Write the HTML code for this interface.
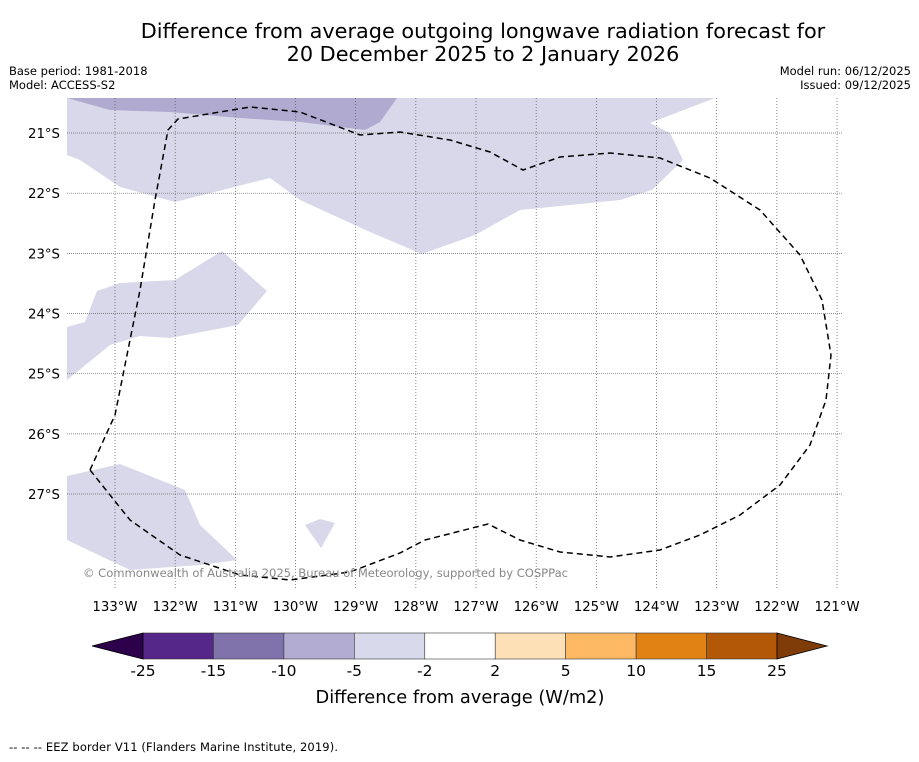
<!DOCTYPE html>
<html><head><meta charset="utf-8"><style>
body{margin:0;background:#fff;width:919px;height:758px;overflow:hidden;font-family:"DejaVu Sans","Liberation Sans",sans-serif;}
svg text{font-family:"DejaVu Sans","Liberation Sans",sans-serif;}
</style></head><body>
<svg id="c" width="919" height="758" xmlns="http://www.w3.org/2000/svg">
<text x="483" y="38" text-anchor="middle" font-size="20.8">Difference from average outgoing longwave radiation forecast for</text>
<text x="483" y="61" text-anchor="middle" font-size="20.8">20 December 2025 to 2 January 2026</text>
<text x="9" y="75" font-size="11.5">Base period: 1981-2018</text>
<text x="9" y="89" font-size="11.5">Model: ACCESS-S2</text>
<text x="911" y="75" font-size="11.5" text-anchor="end">Model run: 06/12/2025</text>
<text x="911" y="89" font-size="11.5" text-anchor="end">Issued: 09/12/2025</text>
<g id="map">
<polygon fill="#d8d8ea" points="67,98 715,98 650,123 670,133 683,160 652,190 620,200 520,210 475,235 422,254 370,232 300,200 270,178 175,202 120,187 80,160 67,155"/>
<polygon fill="#b0aad0" points="67,98 397,98 380,122 365,130 300,122 240,118 170,112 110,110"/>
<polygon fill="#d8d8ea" points="67,327 85,322 97,291 120,283 175,280 222,251 267,291 238,325 170,338 140,336 110,345 67,380"/>
<polygon fill="#d8d8ea" points="67,476 120,464 185,490 200,525 237,560 200,565 130,570 67,540"/>
<polygon fill="#d8d8ea" points="305,525 320,519 335,523 321,548"/>
</g>
<g id="grid"></g>
<polyline fill="none" stroke="#000" stroke-width="1.5" stroke-dasharray="6,4" points="90,470 115,415 140,290 155,200 168,130 178,119 250,107 300,112 360,135 400,132 450,140 490,152 523,170 560,157 610,153 660,158 710,178 760,210 800,255 822,300 831,355 826,400 810,445 780,485 740,515 700,535 660,550 610,557 560,552 520,540 488,524 425,540 400,553 350,572 290,580 240,575 180,555 130,520 90,470"/>
<text x="83" y="577" font-size="11.6" fill="#888" textLength="485">© Commonwealth of Australia 2025, Bureau of Meteorology, supported by COSPPac</text>
<g id="cbar"></g>
<text x="460" y="703" text-anchor="middle" font-size="17.8">Difference from average (W/m2)</text>
<text x="9" y="751" font-size="11.5" textLength="329">--  --  -- EEZ border V11 (Flanders Marine Institute, 2019).</text>
</svg>
<script>
const lonTicks=[133,132,131,130,129,128,127,126,125,124,123,122,121];
const latTicks=[21,22,23,24,25,26,27];
const levels=[-25,-15,-10,-5,-2,2,5,10,15,25];
const binColors=["#542788","#8073ac","#b2abd2","#d8daeb","#ffffff","#fee0b6","#fdb863","#e08214","#b35806"];
const lowColor="#2d004b", highColor="#7f3b08";
const NS="http://www.w3.org/2000/svg";
function xLon(l){return 115+(133-l)*60.17;}
function yLat(l){return 133+(l-21)*60.17;}
function mk(t,a,p){const e=document.createElementNS(NS,t);for(const k in a)e.setAttribute(k,a[k]);p.appendChild(e);return e;}
const g=document.getElementById('grid');
lonTicks.forEach(l=>{
 const x=xLon(l);
 const ln=mk('line',{x1:x,x2:x,y1:98,y2:590,stroke:'#555','stroke-width':0.7,'stroke-dasharray':'1,2'},g);
 
 
 const t=mk('text',{x:x,y:611,'text-anchor':'middle','font-size':13.3},g);
 t.textContent=l+'°W';
 
 
});
latTicks.forEach(l=>{
 const y=yLat(l);
 const ln=mk('line',{x1:67,x2:842,y1:y,y2:y,stroke:'#666','stroke-width':0.7,'stroke-dasharray':'1,1'},g);
 
 
 const t=mk('text',{x:60,y:y+5,'text-anchor':'end','font-size':13.3},g);
 t.textContent=l+'°S';
 
 
});
const cb=document.getElementById('cbar');
const cx0=143,cx1=777,cy0=633,cy1=659;
function xc(i){return cx0+(cx1-cx0)*i/(levels.length-1);}
for(let i=0;i<binColors.length;i++){
 const r=mk('rect',{x:xc(i),y:cy0,width:xc(i+1)-xc(i),height:cy1-cy0,fill:binColors[i],stroke:'#333','stroke-width':0.6},cb);
 
 
}
const la=mk('polygon',{points:`${cx0},${cy0} 92,${(cy0+cy1)/2} ${cx0},${cy1}`,fill:lowColor,stroke:'#000','stroke-width':0.8},cb);


const ha=mk('polygon',{points:`${cx1},${cy0} 827,${(cy0+cy1)/2} ${cx1},${cy1}`,fill:highColor,stroke:'#000','stroke-width':0.8},cb);


levels.forEach((v,i)=>{
 const t=mk('text',{x:xc(i),y:676,'text-anchor':'middle','font-size':15.5},cb);
 t.textContent=v;
 
 
});
</script>
</body></html>
